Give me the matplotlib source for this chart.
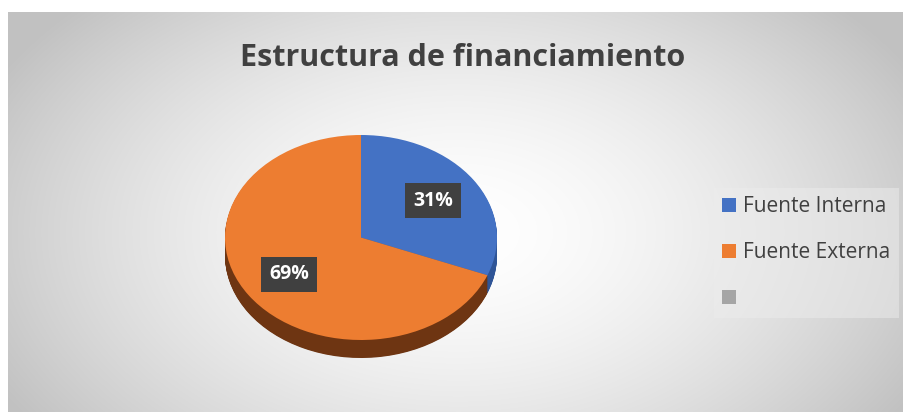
import numpy as np
import matplotlib.pyplot as plt
from matplotlib.patches import Patch

# data
labels = ['Fuente Interna', 'Fuente Externa', '']
values = [31, 69, 0]
colors = ['#4472c4', '#ed7d31', '#a5a5a5']
side_colors = ['#2f5597', '#6e3512', '#7f7f7f']

W, H = 904, 412
fig = plt.figure(figsize=(W / 100, H / 100), dpi=100)

# background gradient (radial, white centre)
bg = fig.add_axes([8 / W, 0, (W - 8) / W, (H - 12) / H])
yy, xx = np.mgrid[0:400, 0:896]
r = np.sqrt(((xx - 450) / 520) ** 2 + ((yy - 220) / 330) ** 2)
shade = np.clip(1 - 0.24 * r ** 1.6, 0.76, 1)
bg.imshow(np.dstack([shade] * 3), aspect='auto', extent=[0, 1, 0, 1])
bg.axis('off')

fig.text(463 / W, 1 - 58 / H, 'Estructura de financiamiento', ha='center', va='center',
         fontsize=22, fontweight='bold', color='#404040', family='Open Sans')

# pie axes: ellipse centre (361, 237.5), rx 136, ry 102.5
cx, cy, rx, ry = 361, 237.5, 136, 102.5
xl, yl_lo, yl_hi = 1.1, -1.35, 1.1
ax = fig.add_axes([(cx - xl * rx) / W, (H - (cy - yl_lo * ry)) / H,
                   2 * xl * rx / W, (yl_hi - yl_lo) * ry / H])
depth = 18 / ry
for d in np.linspace(depth, 0.01, 30):
    ax.pie(values[:2], colors=side_colors[:2], startangle=90, counterclock=False,
           center=(0, -d), wedgeprops=dict(linewidth=0))
wedges, texts, autotexts = ax.pie(values[:2], colors=colors[:2], startangle=90,
                                  counterclock=False, autopct='%1.0f%%', pctdistance=0.64,
                                  wedgeprops=dict(linewidth=0))
for t in autotexts:
    t.set_color('white')
    t.set_fontweight('bold')
    t.set_fontsize(14)
    t.set_family('Open Sans')
    t.set_bbox(dict(boxstyle='square,pad=0.4', facecolor='#404040', edgecolor='none'))
ax.set_aspect('auto')
ax.set_xlim(-xl, xl)
ax.set_ylim(yl_lo, yl_hi)
ax.axis('off')

handles = [Patch(facecolor=c, edgecolor='none') for c in colors]
leg = fig.legend(handles, labels, loc='upper left', bbox_to_anchor=(714 / W, 1 - 188 / H),
                 frameon=True, facecolor='#ececec', edgecolor='none', framealpha=0.5,
                 fancybox=False, prop={'family': 'Open Sans', 'size': 15},
                 handlelength=0.66, handleheight=0.66, handletextpad=0.35,
                 labelspacing=1.2, borderaxespad=0)
for t in leg.get_texts():
    t.set_color('#404040')

fig.savefig('out.png', dpi=100)
